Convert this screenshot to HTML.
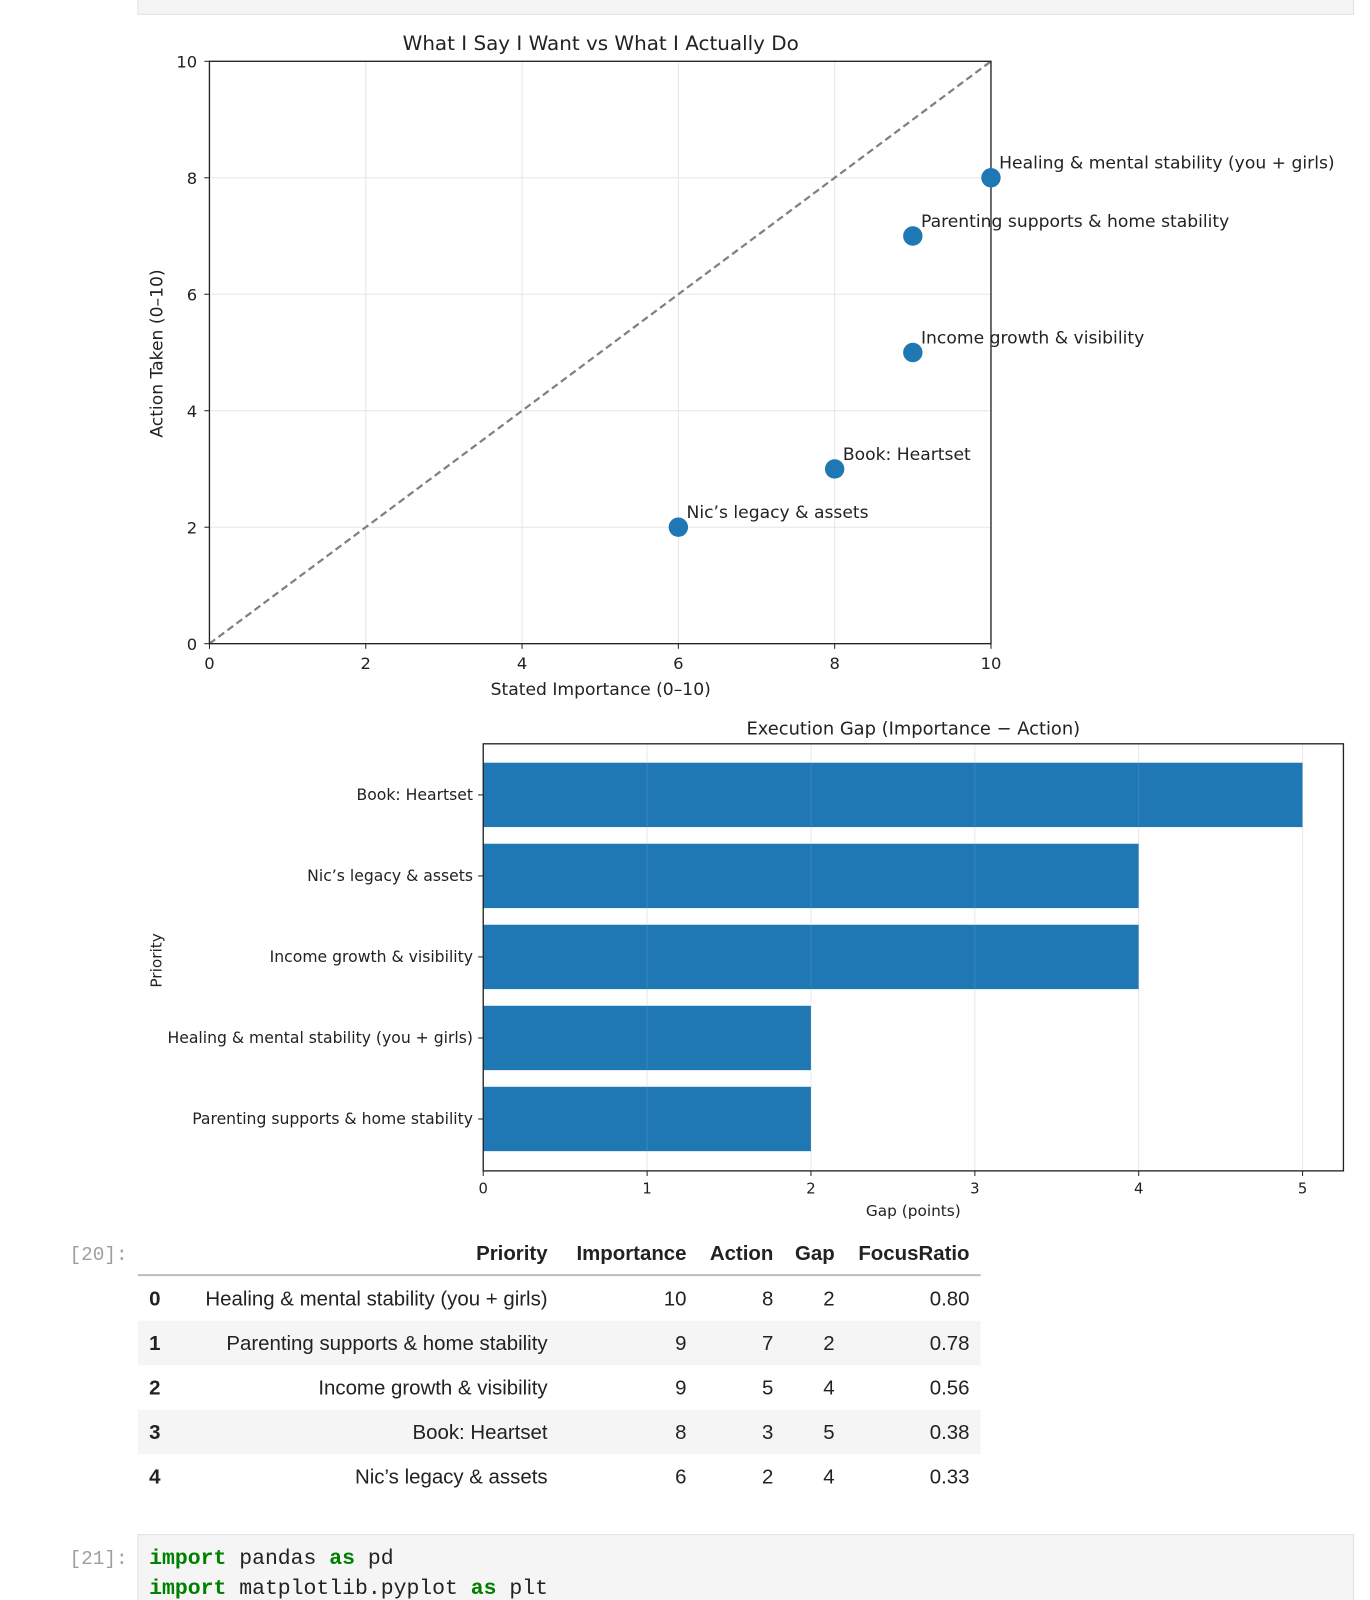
<!DOCTYPE html>
<html><head><meta charset="utf-8">
<style>
html,body{margin:0;padding:0;background:#fff;width:1370px;height:1600px;overflow:hidden}
svg{display:block}
text{font-family:"DejaVu Sans","Liberation Sans",sans-serif;fill:#222}
.mono{font-family:"Liberation Mono","DejaVu Sans Mono",monospace}
.tbl{font-family:"Liberation Sans",sans-serif}
</style></head>
<body>
<svg id="root" width="1370" height="1600" viewBox="0 0 1341 1566" preserveAspectRatio="none" xmlns="http://www.w3.org/2000/svg">
  <rect x="135" y="-5" width="1190" height="19" fill="#f5f5f5" stroke="#e0e0e0"/>
  <g id="scatter"></g>
  <g id="bars"></g>
  <g id="table"></g>
  <text class="mono" x="68" y="1233" font-size="19" style="fill:#9e9e9e">[20]:</text>
  <rect x="135" y="1502" width="1190" height="80" fill="#f5f5f5" stroke="#e0e0e0"/>
  <text class="mono" x="68" y="1531" font-size="19" style="fill:#9e9e9e">[21]:</text>
  <text class="mono" x="146" y="1531" font-size="21"><tspan style="fill:#008000;font-weight:bold">import</tspan> pandas <tspan style="fill:#008000;font-weight:bold">as</tspan> pd</text>
  <text class="mono" x="146" y="1560" font-size="21"><tspan style="fill:#008000;font-weight:bold">import</tspan> matplotlib.pyplot <tspan style="fill:#008000;font-weight:bold">as</tspan> plt</text>
</svg>
<script>
const priorities = ["Healing & mental stability (you + girls)","Parenting supports & home stability","Income growth & visibility","Book: Heartset","Nic\u2019s legacy & assets"];
const importance = [10, 9, 9, 8, 6];
const action = [8, 7, 5, 3, 2];
const gapCats = ["Book: Heartset","Nic\u2019s legacy & assets","Income growth & visibility","Healing & mental stability (you + girls)","Parenting supports & home stability"];
const gapVals = [5, 4, 4, 2, 2];
const focusRatio = ["0.80","0.78","0.56","0.38","0.33"];
const scatterTicks = [0, 2, 4, 6, 8, 10];
const barTicks = [0, 1, 2, 3, 4, 5];

const NS = "http://www.w3.org/2000/svg";
function mk(parent, tag, attrs, txt) {
  const e = document.createElementNS(NS, tag);
  for (const k in attrs) e.setAttribute(k, attrs[k]);
  if (txt !== undefined) e.textContent = txt;
  parent.appendChild(e);
  return e;
}

// Scatter
const sc = document.getElementById('scatter');
const L = 205, R = 970, T = 60, B = 630;
const sx = v => L + (v / 10) * (R - L);
const sy = v => B - (v / 10) * (B - T);
scatterTicks.forEach(t => {
  let g = mk(sc, 'line', {x1: sx(t), x2: sx(t), y1: T, y2: B, stroke: '#e6e6e6'});
  
  
  g = mk(sc, 'line', {x1: L, x2: R, y1: sy(t), y2: sy(t), stroke: '#e6e6e6'});
  
  
  mk(sc, 'line', {x1: sx(t), x2: sx(t), y1: B, y2: B + 5, stroke: '#222'});
  let e = mk(sc, 'text', {x: sx(t), y: B + 25, 'text-anchor': 'middle', 'font-size': 16}, t);
  
  
  mk(sc, 'line', {x1: L - 5, x2: L, y1: sy(t), y2: sy(t), stroke: '#222'});
  e = mk(sc, 'text', {x: L - 12, y: sy(t) + 6, 'text-anchor': 'end', 'font-size': 16}, t);
  
  
});
let d = mk(sc, 'line', {x1: sx(0), y1: sy(0), x2: sx(10), y2: sy(10), stroke: '#808080', 'stroke-width': 2.2, 'stroke-dasharray': '7,4'});


let fr = mk(sc, 'rect', {x: L, y: T, width: R - L, height: B - T, fill: 'none', stroke: '#222', 'stroke-width': 1.3});


priorities.forEach((p, i) => {
  const c = mk(sc, 'circle', {cx: sx(importance[i]), cy: sy(action[i]), r: 9.5, fill: '#1f77b4'});
  
  
  const t = mk(sc, 'text', {x: sx(importance[i]) + 8, y: sy(action[i]) - 9, 'font-size': 16.8}, p);
  
  
});
let st = mk(sc, 'text', {x: 588, y: 49, 'text-anchor': 'middle', 'font-size': 19.5}, 'What I Say I Want vs What I Actually Do');


st = mk(sc, 'text', {x: 588, y: 680, 'text-anchor': 'middle', 'font-size': 16.8}, 'Stated Importance (0\u201310)');


st = mk(sc, 'text', {x: 159, y: 346, 'text-anchor': 'middle', 'font-size': 16.8, transform: 'rotate(-90 159 346)'}, 'Action Taken (0\u201310)');



// Bars
const bc = document.getElementById('bars');
const BL = 473, BR = 1315, BT = 728, BB = 1146;
const bx = v => BL + v * (1275 - BL) / 5;
const by = i => 778 + i * 79.3;
barTicks.forEach(t => {
  let g = mk(bc, 'line', {x1: bx(t), x2: bx(t), y1: BT, y2: BB, stroke: '#e6e6e6'});
  
  
});
gapCats.forEach((c, i) => {
  const r = mk(bc, 'rect', {x: bx(0), y: by(i) - 31.5, width: bx(gapVals[i]) - bx(0), height: 63, fill: '#1f77b4'});
  
  
  mk(bc, 'line', {x1: BL - 5, x2: BL, y1: by(i), y2: by(i), stroke: '#222'});
  const t = mk(bc, 'text', {x: BL - 10, y: by(i) + 5, 'text-anchor': 'end', 'font-size': 15.3}, c);
  
  
});
barTicks.forEach(t => {
  mk(bc, 'line', {x1: bx(t), x2: bx(t), y1: BT, y2: BB, stroke: '#ffffff', 'stroke-opacity': 0.12});
  mk(bc, 'line', {x1: bx(t), x2: bx(t), y1: BB, y2: BB + 5, stroke: '#222'});
  const e = mk(bc, 'text', {x: bx(t), y: BB + 22, 'text-anchor': 'middle', 'font-size': 14.5}, t);
  
  
});
fr = mk(bc, 'rect', {x: BL, y: BT, width: BR - BL, height: BB - BT, fill: 'none', stroke: '#222', 'stroke-width': 1.3});


st = mk(bc, 'text', {x: 894, y: 719, 'text-anchor': 'middle', 'font-size': 17.5}, 'Execution Gap (Importance \u2212 Action)');


st = mk(bc, 'text', {x: 894, y: 1190, 'text-anchor': 'middle', 'font-size': 15}, 'Gap (points)');


st = mk(bc, 'text', {x: 158, y: 940, 'text-anchor': 'middle', 'font-size': 15, transform: 'rotate(-90 158 940)'}, 'Priority');



// Table
const tb = document.getElementById('table');
const colRight = [536, 672, 757, 817, 949];
const headers = ['Priority', 'Importance', 'Action', 'Gap', 'FocusRatio'];
headers.forEach((h, i) => {
  const t = mk(tb, 'text', {class: 'tbl', x: colRight[i], y: 1233, 'text-anchor': 'end', 'font-size': 20, 'font-weight': 'bold'}, h);
  
  
});
mk(tb, 'line', {x1: 135, x2: 960, y1: 1248, y2: 1248, stroke: '#bdbdbd', 'stroke-width': 2});
priorities.forEach((p, i) => {
  const cy = 1271 + i * 43.5;
  if (i % 2 === 1) {
    const r = mk(tb, 'rect', {x: 135, y: cy - 21.75, width: 825, height: 43.5, fill: '#f5f5f5'});
    
    
  }
  const vals = [p, importance[i], action[i], importance[i] - action[i], focusRatio[i]];
  const idx = mk(tb, 'text', {class: 'tbl', x: 146, y: cy + 7, 'font-size': 20, 'font-weight': 'bold'}, i);
  
  
  vals.forEach((v, j) => {
    const t = mk(tb, 'text', {class: 'tbl', x: colRight[j], y: cy + 7, 'text-anchor': 'end', 'font-size': 20}, v);
    
    
  });
});
</script>
</body></html>
